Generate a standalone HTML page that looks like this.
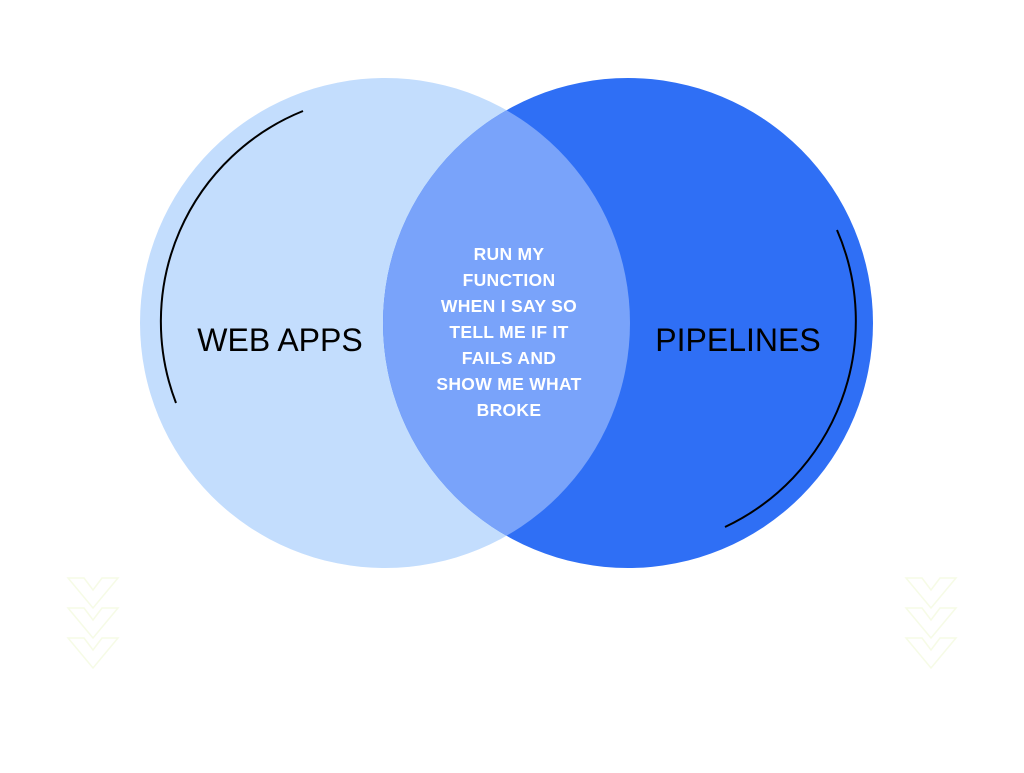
<!DOCTYPE html>
<html><head><style>
body{margin:0;background:#fff;}
</style></head><body>
<svg width="1024" height="768" viewBox="0 0 1024 768" xmlns="http://www.w3.org/2000/svg">
<defs>
<clipPath id="cl"><circle cx="385" cy="323" r="245"/></clipPath>
</defs>
<circle cx="385" cy="323" r="245" fill="#C3DDFD"/>
<circle cx="628" cy="323" r="245" fill="#2F6FF5"/>
<circle cx="628" cy="323" r="245" fill="#79A3FA" clip-path="url(#cl)"/>
<path d="M303,111 A227,227 0 0 0 176,403" fill="none" stroke="#000" stroke-width="2"/>
<path d="M837,230 A228,228 0 0 1 725,527" fill="none" stroke="#000" stroke-width="2"/>
<g fill="none" stroke="#F6FBE6" stroke-width="1.5">
<path d="M68,578 L84,578 L93,590 L102,578 L118,578 L93,608 Z"/><path d="M68,608 L84,608 L93,620 L102,608 L118,608 L93,638 Z"/><path d="M68,638 L84,638 L93,650 L102,638 L118,638 L93,668 Z"/>
<path d="M906,578 L922,578 L931,590 L940,578 L956,578 L931,608 Z"/><path d="M906,608 L922,608 L931,620 L940,608 L956,608 L931,638 Z"/><path d="M906,638 L922,638 L931,650 L940,638 L956,638 L931,668 Z"/>
</g>
<text x="280" y="351" font-family="Liberation Sans, sans-serif" font-size="32" text-anchor="middle" fill="#000">WEB APPS</text>
<text x="738" y="351" font-family="Liberation Sans, sans-serif" font-size="32" text-anchor="middle" fill="#000">PIPELINES</text>
<g font-family="Liberation Sans, sans-serif" font-size="17.5" font-weight="bold" fill="#fff" text-anchor="middle" letter-spacing="0.3">
<text x="509" y="260">RUN MY</text>
<text x="509" y="286">FUNCTION</text>
<text x="509" y="312">WHEN I SAY SO</text>
<text x="509" y="338">TELL ME IF IT</text>
<text x="509" y="364">FAILS AND</text>
<text x="509" y="390">SHOW ME WHAT</text>
<text x="509" y="416">BROKE</text>
</g>
</svg>
</body></html>
